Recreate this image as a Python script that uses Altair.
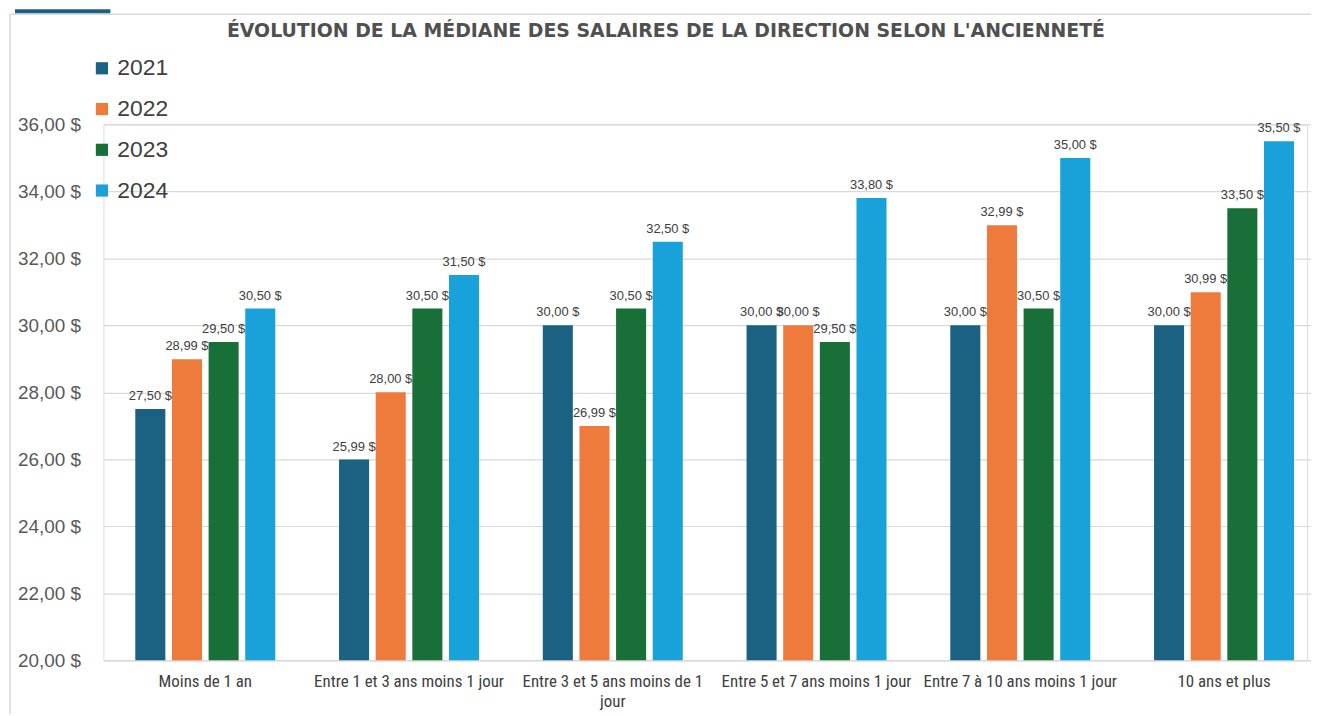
import altair as alt
import pandas as pd

title_text = "ÉVOLUTION DE LA MÉDIANE DES SALAIRES DE LA DIRECTION SELON L'ANCIENNETÉ"
categories = [
    "Moins de 1 an",
    "Entre 1 et 3 ans moins 1 jour",
    "Entre 3 et 5 ans moins de 1 jour",
    "Entre 5 et 7 ans moins 1 jour",
    "Entre 7 à 10 ans moins 1 jour",
    "10 ans et plus",
]
years = ["2021", "2022", "2023", "2024"]
v2021 = [27.50, 25.99, 30.00, 30.00, 30.00, 30.00]
v2022 = [28.99, 28.00, 26.99, 30.00, 32.99, 30.99]
v2023 = [29.50, 30.50, 30.50, 29.50, 30.50, 33.50]
v2024 = [30.50, 31.50, 32.50, 33.80, 35.00, 35.50]
colors = ["#1b6182", "#ee7a3c", "#186f37", "#19a2d9"]

rows = []
for yr, vals in zip(years, [v2021, v2022, v2023, v2024]):
    for c, v in zip(categories, vals):
        rows.append({"cat": c, "year": yr, "value": v,
                     "label": f"{v:.2f}".replace(".", ",") + " $"})
df = pd.DataFrame(rows)
tdf = pd.DataFrame({"t": [title_text]})

W, H = 1211, 539
XR = 1230

x = alt.X("cat:N", sort=categories, title=None,
          scale=alt.Scale(paddingInner=0, paddingOuter=0, range=[0, XR]),
          axis=alt.Axis(labelAngle=0, labelFont="Liberation Sans Narrow, Roboto Condensed, Roboto",
                        labelFontSize=17, labelColor="#404040", labelPadding=14,
                        ticks=False, domainColor="#d9d9d9", domainWidth=1.5,
                        labelLimit=260, labelLineHeight=20,
                        labelExpr="datum.label == 'Entre 3 et 5 ans moins de 1 jour' ? ['Entre 3 et 5 ans moins de 1', 'jour'] : datum.label"))
xo = alt.XOffset("year:N", sort=years, scale=alt.Scale(paddingInner=0.18, paddingOuter=0.87))
y = alt.Y("value:Q", title=None,
          scale=alt.Scale(domain=[20, 36], zero=False, nice=False),
          axis=alt.Axis(values=[20, 22, 24, 26, 28, 30, 32, 34, 36],
                        labelExpr="replace(format(datum.value, '.2f'), '.', ',') + ' $'",
                        labelFont="Liberation Sans", labelFontSize=19, labelColor="#595959",
                        labelPadding=23, ticks=False, domain=False,
                        gridColor="#d9d9d9", gridWidth=1.2))
color = alt.Color("year:N", sort=years,
                  scale=alt.Scale(domain=years, range=colors),
                  legend=alt.Legend(title=None, orient="none", legendX=-13, legendY=-68,
                                    symbolType="square", symbolSize=150, symbolStrokeWidth=0,
                                    labelFont="Liberation Sans", labelFontSize=23,
                                    labelColor="#404040", labelOffset=4, rowPadding=17))

bars = alt.Chart(df).mark_bar().encode(x=x, xOffset=xo, y=y, y2=alt.datum(20), color=color)
labels = alt.Chart(df).mark_text(baseline="bottom", dy=-6, font="Liberation Sans",
                                 fontSize=13, color="#404040").encode(
    x=alt.X("cat:N", sort=categories), xOffset=alt.XOffset("year:N", sort=years),
    y="value:Q", text="label:N")

frame_top = alt.Chart(tdf).mark_rule(stroke="#d9d9d9", strokeWidth=1.5, clip=False).encode(
    x=alt.value(-94), x2=alt.value(1240), y=alt.value(-111))
frame_left = alt.Chart(tdf).mark_rule(stroke="#d9d9d9", strokeWidth=1.5, clip=False).encode(
    x=alt.value(-94), y=alt.value(-111), y2=alt.value(H + 80))
tab = alt.Chart(tdf).mark_rect(fill="#1b6182", clip=False).encode(
    x=alt.value(-89), x2=alt.value(7), y=alt.value(-116), y2=alt.value(-112))
title = alt.Chart(tdf).mark_text(font="DejaVu Sans", fontSize=19, fontWeight="bold", color="#505050",
                                 align="center", baseline="alphabetic").encode(
    x=alt.value(566), y=alt.value(-88), text="t:N")

chart = alt.layer(frame_top, frame_left, tab, title, bars, labels).properties(
    width=W, height=H,
    padding={"left": 96, "top": 115, "right": 4, "bottom": 52},
    autosize=alt.AutoSizeParams(type="none"),
).configure_view(stroke=None).configure(background="white")

chart.save("out.html", embed_options={"renderer": "svg", "actions": False})
